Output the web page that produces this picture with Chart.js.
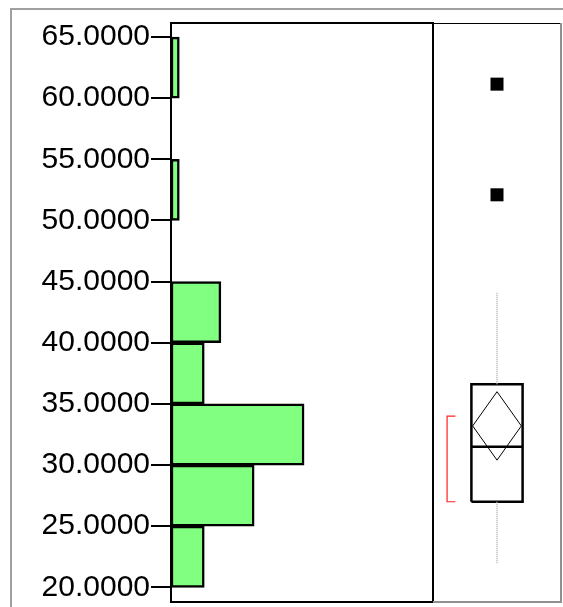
<!DOCTYPE html>
<html>
<head>
<meta charset="utf-8">
<script src="https://cdn.jsdelivr.net/npm/chart.js@4/dist/chart.umd.min.js"></script>
<style>
    body { margin: 0; background: #fff; overflow: hidden; }
    #frame { position: absolute; left: 10px; top: 8px; width: 600px; height: 700px; border: 2px solid #a0a0a0; }
    #hist_chart { position: absolute; left: 0; top: 0; }
    #box_chart { position: absolute; left: 433px; top: 0; }
</style>
</head>
<body>
<div id="frame"></div>
<canvas id="hist_chart" width="434" height="607"></canvas>
<canvas id="box_chart" width="130" height="607"></canvas>
<script>
// histogram bins (lower edge) and counts
var binStarts = [20, 25, 30, 35, 40, 45, 50, 55, 60];
var binCounts = [4, 10, 16, 4, 6, 0, 1, 0, 1];
var binWidth = 5;
var tickValues = [20, 25, 30, 35, 40, 45, 50, 55, 60, 65];

// box plot summary
var quartiles = [27.0, 31.5, 36.6];      // Q1, median, Q3
var whiskers = [21.95, 44.05];           // low, high
var meanDiamond = [30.4, 33.2, 36.0];    // lower 95%, mean, upper 95%
var shortestHalf = [27.0, 34.0];
var outliers = [52.1, 61.15];

var yMin = 18.8, yMax = 66.15;

var framePlugin = {
    id: 'frame',
    afterDraw: function (chart, args, opts) {
        var ctx = chart.ctx, a = chart.chartArea;
        ctx.save();
        if (opts.kind === 'hist') {
            ctx.strokeStyle = '#000';
            ctx.lineWidth = 2;
            ctx.strokeRect(a.left, a.top, a.right - a.left, a.bottom - a.top);
        } else {
            ctx.strokeStyle = '#000';
            ctx.lineWidth = 1;
            ctx.beginPath();
            ctx.moveTo(a.left, a.top + 0.5);
            ctx.lineTo(a.right, a.top + 0.5);
            ctx.stroke();
            ctx.strokeStyle = '#909090';
            ctx.lineWidth = 2;
            ctx.beginPath();
            ctx.moveTo(a.right, a.top);
            ctx.lineTo(a.right, a.bottom);
            ctx.lineTo(a.left, a.bottom);
            ctx.stroke();
        }
        ctx.restore();
    }
};

new Chart(document.getElementById('hist_chart').getContext('2d'), {
    type: 'bar',
    data: {
        datasets: [{
            data: binStarts.map(function (b, i) { return { y: b + binWidth / 2, x: binCounts[i] }; }),
            backgroundColor: '#80ff80',
            borderColor: '#000',
            borderWidth: 2.5,
            borderSkipped: false,
            barPercentage: 1,
            categoryPercentage: 1
        }]
    },
    options: {
        indexAxis: 'y',
        responsive: false,
        animation: false,
        layout: { autoPadding: false, padding: { top: 23, bottom: 5, left: 0, right: 1 } },
        plugins: { legend: { display: false }, tooltip: { enabled: false }, frame: { kind: 'hist' } },
        scales: {
            x: { type: 'linear', min: 0, max: 31.5, display: false },
            y: {
                type: 'linear',
                min: yMin,
                max: yMax,
                offset: false,
                afterFit: function (s) {
                    s.width = 171;
                    s.paddingTop = 0;
                    s.paddingBottom = 0;
                },
                afterBuildTicks: function (s) {
                    s.ticks = tickValues.map(function (v) { return { value: v }; });
                },
                ticks: {
                    autoSkip: false,
                    padding: 1,
                    color: '#000',
                    font: { family: 'Liberation Sans, Arial, sans-serif', size: 30 },
                    callback: function (v) { return Number(v).toFixed(4); }
                },
                grid: { drawOnChartArea: false, offset: false, tickLength: 20, color: '#000', lineWidth: 2 },
                border: { display: false }
            }
        }
    },
    plugins: [framePlugin]
});

var boxHalf = 0.4, diamondHalf = 0.38, bracketX = -0.78, bracketSerif = 0.13;

function seg(points, color, width, dash) {
    return {
        data: points.map(function (p) { return { x: p[0], y: p[1] }; }),
        showLine: true,
        borderColor: color,
        borderWidth: width,
        borderDash: dash || [],
        pointRadius: 0,
        fill: false
    };
}

new Chart(document.getElementById('box_chart').getContext('2d'), {
    type: 'scatter',
    data: {
        datasets: [
            seg([[0, whiskers[1]], [0, quartiles[2]]], '#b0b0b0', 1.5, [1, 1]),
            seg([[0, quartiles[0]], [0, whiskers[0]]], '#b0b0b0', 1.5, [1, 1]),
            seg([[-boxHalf, quartiles[0]], [boxHalf, quartiles[0]], [boxHalf, quartiles[2]],
                 [-boxHalf, quartiles[2]], [-boxHalf, quartiles[0]]], '#000', 2.5),
            seg([[-boxHalf, quartiles[1]], [boxHalf, quartiles[1]]], '#000', 2.5),
            seg([[0, meanDiamond[0]], [diamondHalf, meanDiamond[1]], [0, meanDiamond[2]],
                 [-diamondHalf, meanDiamond[1]], [0, meanDiamond[0]]], '#000', 1),
            seg([[bracketX + bracketSerif, shortestHalf[0]], [bracketX, shortestHalf[0]],
                 [bracketX, shortestHalf[1]], [bracketX + bracketSerif, shortestHalf[1]]], '#ff2020', 1.2),
            {
                data: outliers.map(function (v) { return { x: 0, y: v }; }),
                pointStyle: 'rect',
                pointRadius: 9.2,
                pointBackgroundColor: '#000',
                pointBorderWidth: 0,
                showLine: false
            }
        ]
    },
    options: {
        responsive: false,
        animation: false,
        layout: { autoPadding: false, padding: { top: 23, bottom: 5, left: 0, right: 2 } },
        plugins: { legend: { display: false }, tooltip: { enabled: false }, frame: { kind: 'box' } },
        scales: {
            x: { type: 'linear', min: -1, max: 1, display: false },
            y: { type: 'linear', min: yMin, max: yMax, display: false }
        }
    },
    plugins: [framePlugin]
});
</script>
</body>
</html>
